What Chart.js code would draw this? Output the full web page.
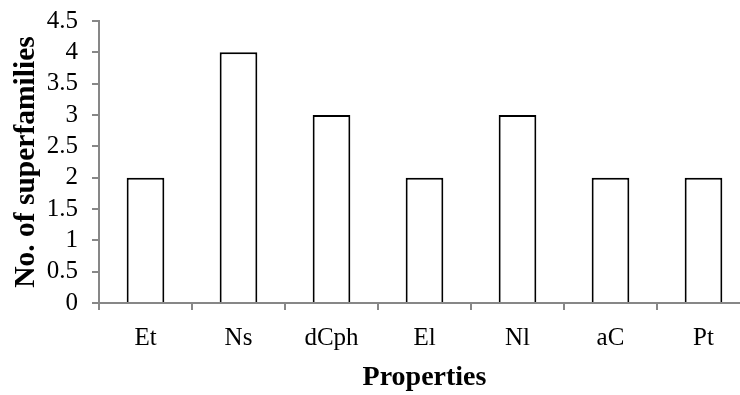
<!DOCTYPE html>
<html>
<head>
<meta charset="utf-8">
<script src="https://cdn.jsdelivr.net/npm/chart.js@4"></script>
<style>
html,body{margin:0;padding:0;background:#fff;overflow:hidden;}
#wrap{width:750px;height:403px;position:relative;margin-top:-8px;}
</style>
</head>
<body>
<div id="wrap"><canvas id="c"></canvas></div>
<script>
const categories = ["Et", "Ns", "dCph", "El", "Nl", "aC", "Pt"];
const superfamilies = [2, 4, 3, 2, 3, 2, 2];
const yTitle = "No. of superfamilies";
const xTitle = "Properties";

const axisColor = "#878787";
const serif = "'Liberation Serif', 'Times New Roman', serif";

new Chart(document.getElementById("c"), {
  type: "bar",
  data: {
    labels: categories,
    datasets: [{
      data: superfamilies,
      backgroundColor: "#ffffff",
      borderColor: "#000000",
      borderWidth: 2,
      barPercentage: 0.405,
      categoryPercentage: 1.0
    }]
  },
  options: {
    responsive: true,
    maintainAspectRatio: false,
    animation: false,
    layout: { padding: { top: 0, left: 0, right: 0, bottom: 0 } },
    plugins: { legend: { display: false }, tooltip: { enabled: false } },
    scales: {
      x: {
        grid: { display: true, drawOnChartArea: false, offset: true, color: axisColor, lineWidth: 2, tickLength: 7 },
        border: { display: true, color: axisColor, width: 2 },
        ticks: { color: "#000", font: { family: serif, size: 25 }, padding: 13, maxRotation: 0 },
        title: { display: true, text: xTitle, color: "#000", font: { family: serif, size: 28, weight: "bold" }, padding: { top: 0, bottom: 0 } },
        afterFit(scale) { scale.height = 92; }
      },
      y: {
        min: 0, max: 4.5,
        grid: { display: true, drawOnChartArea: false, color: axisColor, lineWidth: 2, tickLength: 7 },
        border: { display: true, color: axisColor, width: 2 },
        ticks: { stepSize: 0.5, autoSkip: false, color: "#000", font: { family: serif, size: 25 }, padding: 14,
                 callback: (v) => String(v) },
        title: { display: true, text: yTitle, color: "#000", font: { family: serif, size: 29.5, weight: "bold" }, padding: { top: 9, bottom: 0 } },
        afterFit(scale) { scale.width = 99; }
      }
    }
  }
});
</script>
</body>
</html>
